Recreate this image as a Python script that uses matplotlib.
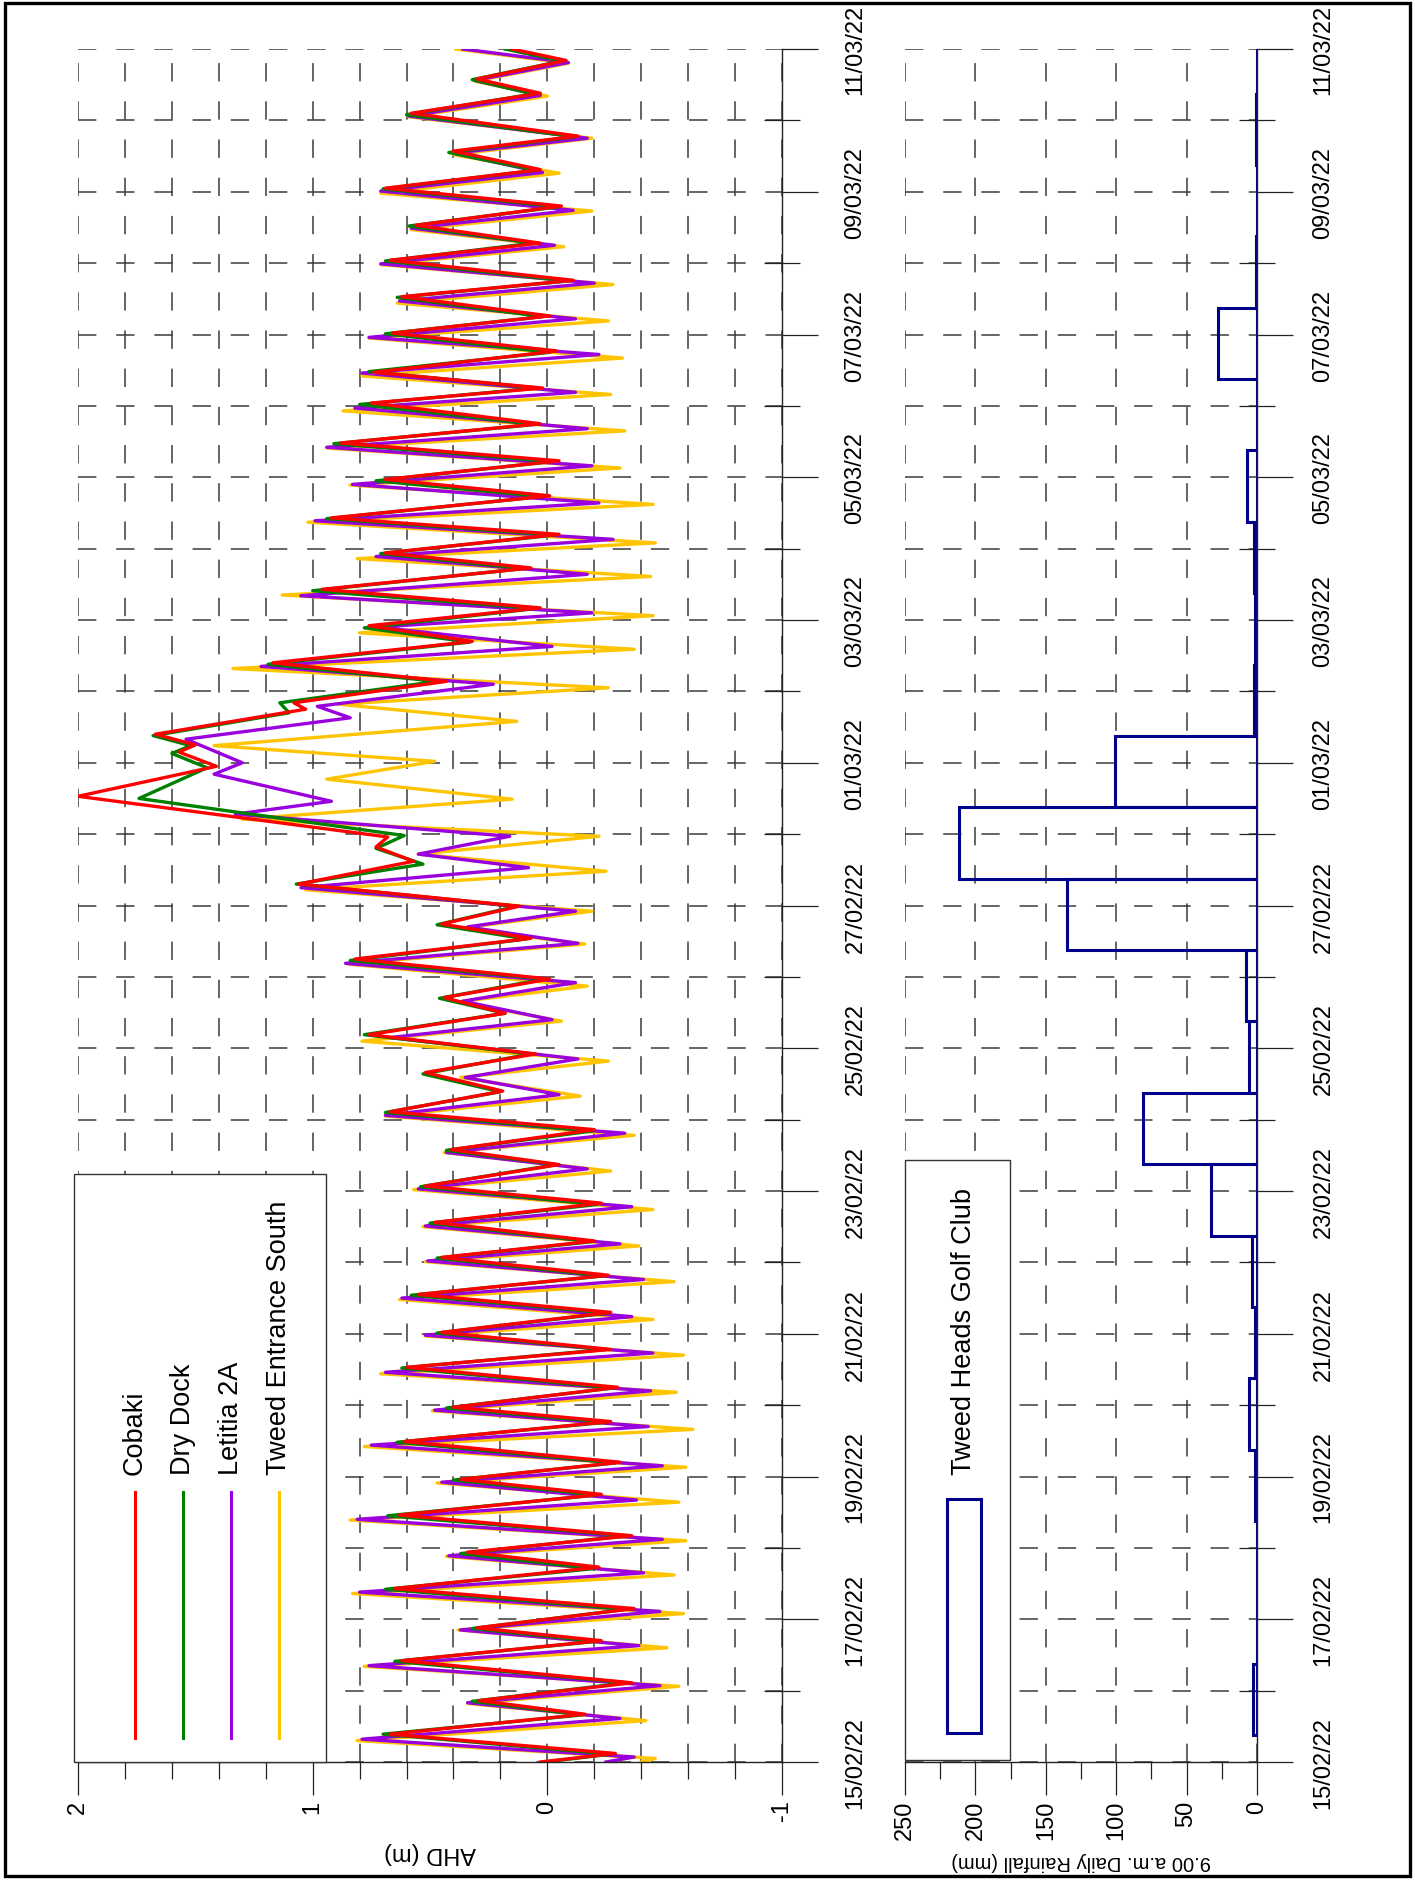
import numpy as np
import pandas as pd
import matplotlib
matplotlib.use('Agg')
import matplotlib.pyplot as plt
from matplotlib.patches import Rectangle
from matplotlib.lines import Line2D
from matplotlib.ticker import MultipleLocator

plt.rcParams['font.family'] = ['Liberation Sans', 'DejaVu Sans']

# tide turning points: [days after 15/02/22 00:00, level (m AHD)]
cobaki = np.array([
    [0.00, 0.03], [0.12, -0.29], [0.39, 0.67], [0.67, -0.16], [0.86, 0.29], [1.11, -0.36],
    [1.42, 0.62], [1.70, -0.23], [1.88, 0.30], [2.15, -0.37], [2.43, 0.65], [2.73, -0.22],
    [2.94, 0.34], [3.17, -0.36], [3.46, 0.63], [3.75, -0.23], [3.96, 0.37], [4.20, -0.31],
    [4.49, 0.61], [4.77, -0.27], [4.97, 0.40], [5.25, -0.30], [5.53, 0.60], [5.78, -0.27],
    [6.02, 0.45], [6.30, -0.27], [6.55, 0.55], [6.82, -0.26], [7.07, 0.45], [7.30, -0.20],
    [7.56, 0.48], [7.83, -0.23], [8.07, 0.52], [8.37, -0.05], [8.58, 0.41], [8.86, -0.20],
    [9.11, 0.67], [9.40, 0.19], [9.66, 0.52], [9.92, 0.05], [10.19, 0.76], [10.49, 0.18],
    [10.71, 0.44], [10.97, -0.01], [11.25, 0.82], [11.54, 0.07], [11.74, 0.45], [11.99, 0.12],
    [12.30, 1.06], [12.62, 0.57], [12.82, 0.73], [12.96, 0.68], [13.53, 2.00], [13.95, 1.41],
    [14.15, 1.57], [14.25, 1.50], [14.40, 1.67], [14.75, 1.03], [14.84, 1.08], [15.14, 0.43],
    [15.40, 1.17], [15.70, 0.32], [15.92, 0.76], [16.17, 0.03], [16.43, 0.96], [16.73, 0.07],
    [16.94, 0.69], [17.20, -0.05], [17.43, 0.92], [17.74, -0.01], [17.97, 0.69], [18.23, -0.05],
    [18.48, 0.88], [18.75, 0.03], [19.04, 0.75], [19.25, 0.02], [19.47, 0.74], [19.77, -0.04],
    [20.02, 0.66], [20.26, -0.01], [20.53, 0.62], [20.76, -0.11], [21.04, 0.67], [21.28, 0.03],
    [21.53, 0.56], [21.80, -0.06], [22.05, 0.69], [22.31, 0.03], [22.57, 0.40], [22.78, -0.13],
    [23.10, 0.58], [23.38, 0.03], [23.58, 0.30], [23.84, -0.08], [24.00, 0.15]])

dry_dock = np.array([
    [0.00, 0.01], [0.11, -0.27], [0.39, 0.70], [0.66, -0.15], [0.85, 0.32], [1.11, -0.34],
    [1.41, 0.65], [1.69, -0.21], [1.87, 0.32], [2.14, -0.34], [2.42, 0.69], [2.71, -0.20],
    [2.92, 0.37], [3.17, -0.34], [3.45, 0.68], [3.74, -0.21], [3.95, 0.40], [4.19, -0.29],
    [4.48, 0.64], [4.76, -0.25], [4.96, 0.43], [5.24, -0.28], [5.52, 0.62], [5.78, -0.25],
    [6.01, 0.47], [6.29, -0.26], [6.54, 0.58], [6.81, -0.24], [7.06, 0.47], [7.29, -0.19],
    [7.55, 0.50], [7.81, -0.21], [8.06, 0.54], [8.37, -0.04], [8.57, 0.43], [8.84, -0.19],
    [9.10, 0.69], [9.39, 0.20], [9.64, 0.53], [9.92, 0.07], [10.19, 0.78], [10.49, 0.18],
    [10.70, 0.46], [10.97, 0.01], [11.23, 0.84], [11.53, 0.09], [11.73, 0.47], [11.99, 0.13],
    [12.30, 1.07], [12.58, 0.53], [12.80, 0.73], [12.98, 0.61], [13.50, 1.74], [13.93, 1.45],
    [14.13, 1.60], [14.24, 1.52], [14.38, 1.68], [14.70, 1.10], [14.84, 1.14], [15.14, 0.47],
    [15.38, 1.19], [15.69, 0.33], [15.89, 0.78], [16.16, 0.05], [16.41, 1.00], [16.72, 0.10],
    [16.93, 0.71], [17.19, -0.03], [17.42, 0.94], [17.73, 0.02], [17.95, 0.73], [18.22, -0.02],
    [18.47, 0.91], [18.74, 0.05], [19.02, 0.80], [19.25, 0.04], [19.48, 0.76], [19.75, -0.01],
    [20.01, 0.69], [20.25, 0.02], [20.52, 0.64], [20.75, -0.09], [21.03, 0.69], [21.28, 0.06],
    [21.52, 0.59], [21.79, -0.05], [22.04, 0.70], [22.30, 0.05], [22.55, 0.42], [22.77, -0.12],
    [23.08, 0.60], [23.37, 0.06], [23.57, 0.32], [23.83, -0.06], [24.00, 0.18]])

letitia = np.array([
    [0.00, -0.25], [0.07, -0.37], [0.32, 0.79], [0.61, -0.31], [0.83, 0.34], [1.07, -0.48],
    [1.35, 0.76], [1.63, -0.39], [1.85, 0.37], [2.11, -0.48], [2.38, 0.80], [2.65, -0.41],
    [2.89, 0.42], [3.12, -0.49], [3.40, 0.81], [3.67, -0.38], [3.92, 0.45], [4.15, -0.49],
    [4.44, 0.75], [4.70, -0.43], [4.93, 0.48], [5.20, -0.44], [5.46, 0.69], [5.73, -0.45],
    [5.98, 0.52], [6.24, -0.36], [6.50, 0.62], [6.76, -0.41], [7.02, 0.51], [7.26, -0.31],
    [7.51, 0.52], [7.78, -0.36], [8.03, 0.55], [8.31, -0.17], [8.54, 0.43], [8.81, -0.33],
    [9.06, 0.69], [9.35, -0.05], [9.59, 0.35], [9.85, -0.13], [10.15, 0.67], [10.40, -0.02],
    [10.66, 0.36], [10.92, -0.12], [11.19, 0.86], [11.47, -0.13], [11.70, 0.34], [11.92, -0.12],
    [12.25, 1.05], [12.53, 0.08], [12.72, 0.55], [12.97, 0.16], [13.28, 1.33], [13.46, 0.92],
    [13.84, 1.42], [14.00, 1.30], [14.33, 1.54], [14.63, 0.84], [14.79, 0.98], [15.10, 0.23],
    [15.35, 1.22], [15.63, -0.02], [15.90, 0.72], [16.10, -0.19], [16.34, 1.05], [16.64, -0.17],
    [16.89, 0.73], [17.13, -0.28], [17.39, 0.99], [17.64, -0.22], [17.90, 0.83], [18.16, -0.19],
    [18.42, 0.94], [18.68, -0.17], [18.97, 0.82], [19.19, -0.12], [19.46, 0.79], [19.72, -0.22],
    [19.96, 0.76], [20.22, -0.12], [20.47, 0.63], [20.72, -0.20], [20.99, 0.71], [21.25, -0.03],
    [21.49, 0.58], [21.74, -0.11], [22.01, 0.71], [22.27, 0.02], [22.54, 0.40], [22.75, -0.17],
    [23.06, 0.59], [23.35, 0.03], [23.56, 0.31], [23.81, -0.09], [24.00, 0.36]])

tweed_south = np.array([
    [0.00, -0.40], [0.05, -0.46], [0.30, 0.81], [0.58, -0.42], [0.82, 0.34], [1.06, -0.56],
    [1.34, 0.78], [1.60, -0.51], [1.85, 0.38], [2.08, -0.58], [2.36, 0.83], [2.62, -0.54],
    [2.88, 0.43], [3.10, -0.59], [3.39, 0.84], [3.64, -0.56], [3.91, 0.47], [4.13, -0.59],
    [4.42, 0.78], [4.66, -0.62], [4.92, 0.49], [5.18, -0.55], [5.44, 0.71], [5.70, -0.58],
    [5.97, 0.52], [6.20, -0.45], [6.48, 0.63], [6.73, -0.54], [7.01, 0.52], [7.23, -0.39],
    [7.50, 0.53], [7.74, -0.45], [8.02, 0.57], [8.28, -0.27], [8.54, 0.44], [8.78, -0.37],
    [9.05, 0.69], [9.33, -0.14], [9.59, 0.37], [9.82, -0.26], [10.10, 0.79], [10.38, -0.06],
    [10.65, 0.38], [10.87, -0.17], [11.18, 0.85], [11.46, -0.16], [11.68, 0.37], [11.92, -0.19],
    [12.22, 1.03], [12.48, -0.25], [12.72, 0.55], [12.97, -0.22], [13.21, 1.30], [13.49, 0.15],
    [13.77, 0.94], [14.02, 0.48], [14.24, 1.42], [14.58, 0.13], [14.82, 0.89], [15.05, -0.26],
    [15.32, 1.34], [15.59, -0.37], [15.82, 0.80], [16.06, -0.45], [16.35, 1.13], [16.61, -0.44],
    [16.86, 0.81], [17.08, -0.46], [17.37, 1.02], [17.62, -0.45], [17.89, 0.84], [18.13, -0.31],
    [18.41, 0.94], [18.65, -0.33], [18.93, 0.87], [19.16, -0.27], [19.42, 0.79], [19.67, -0.32],
    [19.95, 0.76], [20.19, -0.26], [20.44, 0.64], [20.70, -0.28], [20.98, 0.71], [21.23, -0.07],
    [21.47, 0.58], [21.73, -0.19], [21.98, 0.71], [22.26, -0.05], [22.52, 0.40], [22.75, -0.19],
    [23.05, 0.59], [23.34, 0.00], [23.55, 0.31], [23.80, -0.09], [24.00, 0.39]])

stations = ['Cobaki', 'Dry Dock', 'Letitia 2A', 'Tweed Entrance South']
colours = ['#ff0000', '#008000', '#9900dd', '#ffc400']

# 9 am daily rainfall, Tweed Heads Golf Club (date of the 9 am reading)
rain_dates = ['16/02/22', '17/02/22', '18/02/22', '19/02/22', '20/02/22', '21/02/22',
              '22/02/22', '23/02/22', '24/02/22', '25/02/22', '26/02/22', '27/02/22',
              '28/02/22', '01/03/22', '02/03/22', '03/03/22', '04/03/22', '05/03/22',
              '06/03/22', '07/03/22', '08/03/22', '09/03/22', '10/03/22', '11/03/22']
rain_mm = [2.5, 0, 0, 1.4, 5.5, 1.5, 3.6, 33, 81, 6, 7.7, 135,
           212, 101, 2, 1.5, 2.4, 7.2, 0, 27.5, 1, 0, 0.5, 0]

date_labels = ['15/02/22', '17/02/22', '19/02/22', '21/02/22', '23/02/22', '25/02/22',
               '27/02/22', '01/03/22', '03/03/22', '05/03/22', '07/03/22', '09/03/22',
               '11/03/22']

start = pd.Timestamp('2022-02-15')
one_day = pd.Timedelta(days=1)
tick_days = (pd.to_datetime(date_labels, format='%d/%m/%y') - start) / one_day
rain_end = (pd.to_datetime(rain_dates, format='%d/%m/%y') - start) / one_day + 9 / 24

W, H = 1415, 1881
fig = plt.figure(figsize=(W / 100, H / 100), dpi=100)


def box(x0, y0, x1, y1):
    # pixel box (from top-left) -> figure fraction rect
    return [x0 / W, 1 - y1 / H, (x1 - x0) / W, (y1 - y0) / H]


def fp(x, y):
    return x / W, 1 - y / H


grid_kw = dict(linestyle=(0, (12, 13)), color='#3a3a3a', linewidth=1.1)

# ---- tide levels (top panel, drawn rotated) ----
ax1 = fig.add_axes(box(78, 50, 782, 1763))
for data, c in list(zip([cobaki, dry_dock, letitia, tweed_south], colours))[::-1]:
    ax1.plot(data[:, 1], data[:, 0], color=c, lw=2.4, solid_joinstyle='round')
ax1.set_xlim(2, -1)
ax1.set_ylim(0, 24)
ax1.set_xticks([2, 1, 0, -1], ['2', '1', '0', '-1'])
ax1.xaxis.set_minor_locator(MultipleLocator(0.2))
ax1.grid(True, which='both', **grid_kw)
ax1.set_xlabel('AHD (m)', fontsize=17, rotation=180, va='center')
ax1.xaxis.set_label_coords(0.5, -(1853 - 1763) / 1713)

# ---- rainfall (bottom panel, drawn rotated) ----
ax2 = fig.add_axes(box(905, 50, 1257, 1763))
ax2.barh(rain_end - 1, rain_mm, height=1, align='edge', fill=False,
         edgecolor='#00008b', linewidth=2.2)
ax2.set_xlim(250, 0)
ax2.set_ylim(0, 24)
ax2.set_xticks([250, 200, 150, 100, 50, 0], ['250', '200', '150', '100', '50', '0'])
ax2.xaxis.set_minor_locator(MultipleLocator(25))
ax2.grid(True, axis='x', which='major', **grid_kw)
ax2.grid(True, axis='y', which='both', **grid_kw)
ax2.set_xlabel('9.00 a.m. Daily Rainfall (mm)', fontsize=14.5, rotation=180, va='center')
ax2.xaxis.set_label_coords(0.5, -(1862 - 1763) / 1713)

for ax, dpad in ((ax1, 19), (ax2, 14)):
    ax.spines['top'].set_visible(False)
    ax.spines['left'].set_visible(False)
    for s in ('right', 'bottom'):
        ax.spines[s].set_linewidth(1.0)
        ax.spines[s].set_color('#222222')
    ax.set_axisbelow(True)
    ax.yaxis.tick_right()
    ax.set_yticks(tick_days, date_labels)
    ax.yaxis.set_minor_locator(MultipleLocator(1))
    ax.tick_params(axis='y', which='major', direction='out', length=26, width=0.9,
                   pad=dpad, labelsize=17, labelrotation=90, color='#222222')
    ax.tick_params(axis='y', which='minor', direction='inout', length=26, width=0.9,
                   color='#222222')
    ax.tick_params(axis='x', which='major', direction='out', length=24, width=0.9,
                   pad=3, labelsize=17, labelrotation=90, color='#222222')
    ax.tick_params(axis='x', which='minor', direction='out', length=12, width=0.9,
                   color='#222222')
    for lab in ax.get_yticklabels():
        lab.set_verticalalignment('center')

# ---- legends (rotated by hand) ----
fig.add_artist(Rectangle(fp(74, 1763), 252 / W, 588 / H, transform=fig.transFigure,
                         facecolor='white', edgecolor='#333333', lw=1.0, zorder=3))
for xp, name, c in zip([135, 183, 231, 279], stations, colours):
    fig.add_artist(Line2D([xp / W, xp / W], [1 - 1739 / H, 1 - 1493 / H],
                          transform=fig.transFigure, color=c, lw=2.2, zorder=4))
    fig.text(xp / W, 1 - 1475 / H, name, rotation=90, ha='center', va='bottom',
             fontsize=19.5, zorder=4)

fig.add_artist(Rectangle(fp(905, 1761), 105 / W, 600 / H, transform=fig.transFigure,
                         facecolor='white', edgecolor='#333333', lw=1.0, zorder=3))
fig.add_artist(Rectangle(fp(947, 1734), 34 / W, 234 / H, transform=fig.transFigure,
                         fill=False, edgecolor='#00008b', lw=2.2, zorder=4))
fig.text(964 / W, 1 - 1475 / H, 'Tweed Heads Golf Club', rotation=90, ha='center',
         va='bottom', fontsize=19.5, zorder=4)

# outer frame
fig.add_artist(Rectangle(fp(5, 1877), 1405 / W, 1873 / H, transform=fig.transFigure,
                         fill=False, edgecolor='black', lw=2.4, zorder=5))

fig.savefig('out.png', dpi=100)
